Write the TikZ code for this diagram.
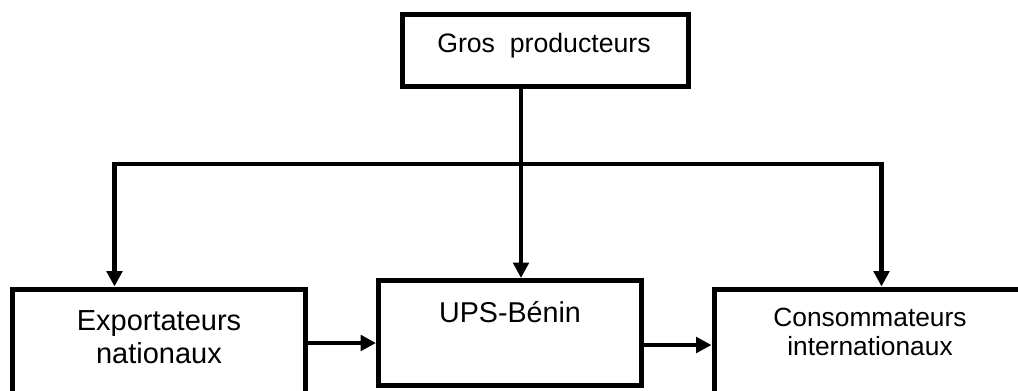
\documentclass[tikz,border=0pt]{standalone}
\usepackage{fontspec}
\setmainfont{Liberation Sans}
\usetikzlibrary{arrows.meta}

\begin{document}
\begin{tikzpicture}[x=0.75pt,y=-0.75pt,
  box/.style={draw,line width=3.75pt,rectangle,inner sep=0pt},
  link/.style={line width=3.5pt},
  arr/.style={link,-{Triangle[length=11.5pt,width=11.5pt]}},
  txt/.style={inner sep=0pt,align=center,anchor=base}]
\useasboundingbox (0,0) rectangle (1018,390);
\clip (0,0) rectangle (1018,390);
% boxes
\node[box,minimum width=214.5pt,minimum height=54pt] (prod) at (545,50) {};
\node[box,minimum width=219.75pt,minimum height=81pt] (expo) at (159,343) {};
\node[box,minimum width=197.25pt,minimum height=78.75pt] (ups) at (510,333) {};
\node[box,minimum width=259.5pt,minimum height=84pt] (conso) at (887,345) {};
% texts (base = last line)
\node[txt,font=\fontsize{20}{24}\selectfont] (prod-t) at (544,52) {Gros\ \ producteurs};
\node[txt,font=\fontsize{21.75}{24.75}\selectfont] (expo-t) at (159,363) {Exportateurs\\nationaux};
\node[txt,font=\fontsize{21.5}{24}\selectfont] (ups-t) at (510,322) {UPS-Bénin};
\node[txt,font=\fontsize{19.75}{21.75}\selectfont] (conso-t) at (870,355) {Consommateurs\\internationaux};
% connectors
\coordinate (split) at (521,164);
\coordinate (jl) at (114.5,164);
\coordinate (jr) at (881.5,164);
\draw[arr] (split |- prod.south) -- (split |- ups.north);
\draw[link,{Triangle[length=11.5pt,width=11.5pt]}-{Triangle[length=11.5pt,width=11.5pt]}]
 (jl |- expo.north) -- (jl) -- (jr) -- (jr |- conso.north);
\draw[arr] (expo.east) -- (expo.east -| ups.west);
\draw[arr] (ups.east |- conso.west) -- (conso.west);
\end{tikzpicture}
\end{document}
